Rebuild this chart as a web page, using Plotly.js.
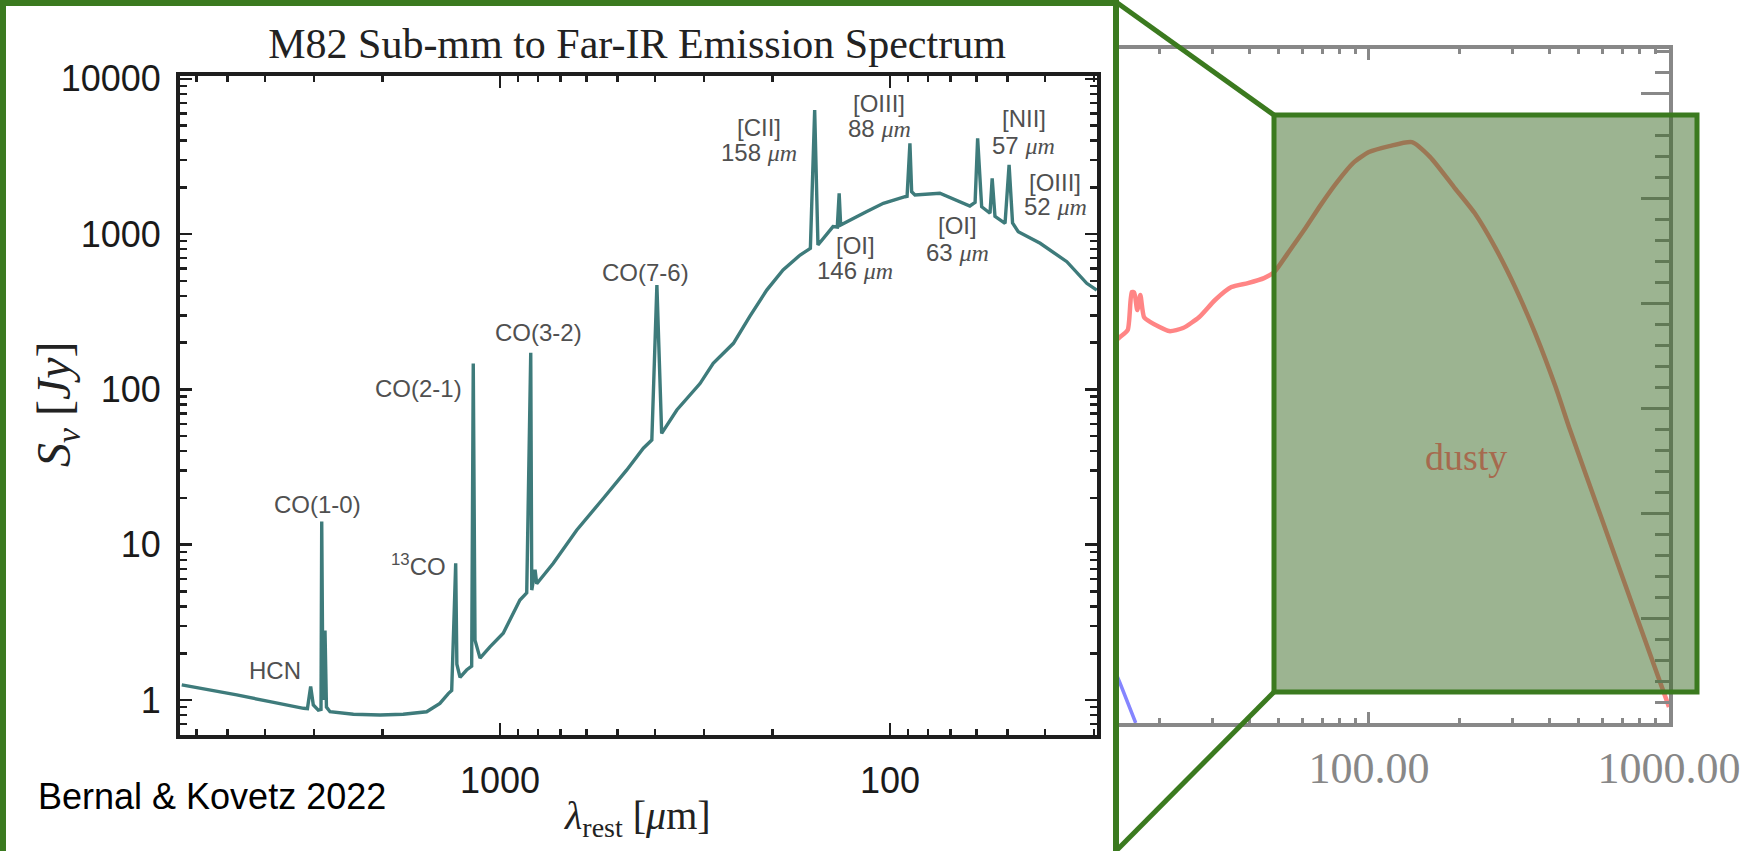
<!DOCTYPE html>
<html><head><meta charset="utf-8">
<script src="https://cdn.plot.ly/plotly-3.0.1.min.js"></script>
<style>html,body{margin:0;padding:0;background:#fff;overflow:hidden}#chart{width:1745px;height:851px}</style>
</head><body><div id="chart"></div>
<script>
// ---- Left panel: M82 spectrum (wavelength in micron, flux density in Jy) ----
const specLambda = [6546, 4732, 3890, 3190, 3117, 3058, 3011, 2924, 2877, 2865, 2844, 2810, 2786, 2728,
  2376, 2030, 1771, 1542, 1426, 1357, 1330, 1310, 1299, 1290, 1266, 1218, 1182, 1171, 1159, 1125,
  1061, 981, 889, 854, 834, 829, 813, 805, 730, 636, 543, 473, 429, 408, 396, 385,
  352, 307, 284, 252, 229, 207, 188, 170, 160, 156, 153, 140, 136.5, 135, 133.8,
  115, 104, 91.5, 90.4, 88.9, 88, 86.3, 74.5, 62.4, 60.5, 59.6, 58.2, 55.4, 54.7, 53.8,
  50.7, 49.5, 48.5, 46.9, 41.2, 35.2, 31.3, 29.5];
const specFlux = [1.25, 1.08, 0.975, 0.884, 0.88, 1.22, 0.93, 0.86, 0.87, 14.1, 1.0, 2.8, 0.9, 0.84,
  0.81, 0.80, 0.81, 0.84, 0.95, 1.10, 1.15, 3.8, 7.6, 1.7, 1.4, 1.56, 1.65, 147, 2.43, 1.86,
  2.20, 2.69, 4.40, 4.9, 172, 5.1, 6.9, 5.6, 7.59, 12.4, 19.9, 30.3, 41.8, 47.2, 470, 52.1,
  73.7, 109, 147, 198, 294, 436, 587, 733, 810, 6300, 851, 1117, 1110, 1832, 1144,
  1394, 1578, 1741, 1750, 3845, 1876, 1786, 1832, 1517, 1600, 4140, 1500, 1362, 2286, 1300,
  1173, 2787, 1180, 1036, 872, 664, 482, 436];
const leftXTickVals = [100, 1000];
const leftXTickText = ['100', '1000'];
const leftYTickVals = [1, 10, 100, 1000, 10000];
const leftYTickText = ['1', '10', '100', '1000', '10000'];

// ---- Right panel: SED components ----
const sedX = [13.7, 14.8, 15.7, 16.2, 16.5, 16.9, 17.3, 17.8, 18.7, 21.6, 24.0, 27.2, 30.7, 34.8, 39.5,
  44.7, 48.3, 53.7, 60.8, 69.0, 78.3, 88.5, 100, 117, 139, 160, 192, 225, 263, 307, 358, 419, 468, 589, 770, 1000];
const sedY = [3.6, 3.676, 3.743, 4.105, 4.10, 3.933, 4.076, 3.867, 3.819, 3.733, 3.762, 3.867, 4.029, 4.152, 4.190,
  4.238, 4.295, 4.476, 4.695, 4.933, 5.152, 5.333, 5.438, 5.495, 5.533, 5.390, 5.105, 4.857, 4.533, 4.152, 3.714, 3.200, 2.790, 1.990, 1.057, 0.152];
const blueX = [13.7, 14.8, 16.7];
const blueY = [0.61, 0.381, 0.0];
const rightXTickVals = [100, 1000];
const rightXTickText = ['100.00', '1000.00'];

// ---- helpers (pixel -> paper) ----
const W = 1745, H = 851;
const PX = x => x / W;
const PY = y => 1 - y / H;
function logMinor(kLo, kHi) {
  const v = [];
  for (let k = kLo; k <= kHi; k++) for (let d = 2; d <= 9; d++) v.push(d * Math.pow(10, k));
  return v;
}
const GREEN = '#3b7a1f';
const SANS = 'Liberation Sans, Arial, Helvetica, sans-serif';
const SERIF = 'Liberation Serif, Times New Roman, serif';
const labelFont = {family: SANS, size: 24, color: '#505050'};
const mu = '<span style="font-family:Liberation Serif"><i>μm</i></span>';

const traces = [
  {x: sedX, y: sedY, xaxis: 'x', yaxis: 'y', mode: 'lines', line: {color: '#ff8585', width: 4.5, shape: 'spline', smoothing: 0.6}, hoverinfo: 'skip', showlegend: false},
  {x: blueX, y: blueY, xaxis: 'x', yaxis: 'y', mode: 'lines', line: {color: '#8585ff', width: 3.5}, hoverinfo: 'skip', showlegend: false},
  {x: specLambda, y: specFlux, xaxis: 'x2', yaxis: 'y2', mode: 'lines', line: {color: '#3e7b7b', width: 3.4, simplify: false}, hoverinfo: 'skip', showlegend: false}
];

function ann(text, x, y, font, extra) {
  return Object.assign({text: text, x: PX(x), y: PY(y), xref: 'paper', yref: 'paper', showarrow: false,
    xanchor: 'center', yanchor: 'middle', font: font}, extra || {});
}

const annotations = [
  ann('HCN', 275, 670, labelFont),
  ann('CO(1-0)', 317, 504, labelFont),
  ann('<sup>13</sup>CO', 418, 565, labelFont),
  ann('CO(2-1)', 418, 388, labelFont),
  ann('CO(3-2)', 538, 332, labelFont),
  ann('CO(7-6)', 645, 272, labelFont),
  ann('[CII]', 759, 127, labelFont),
  ann('158 ' + mu, 759, 152, labelFont),
  ann('[OIII]', 879, 103, labelFont),
  ann('88 ' + mu, 879, 128, labelFont),
  ann('[NII]', 1024, 118, labelFont),
  ann('57 ' + mu, 1024, 145, labelFont),
  ann('[OIII]', 1055, 182, labelFont),
  ann('52 ' + mu, 1055, 207, labelFont),
  ann('[OI]', 855, 245, labelFont),
  ann('146 ' + mu, 855, 270, labelFont),
  ann('[OI]', 958, 225, labelFont),
  ann('63 ' + mu, 958, 252, labelFont),
  ann('<i>S</i><sub><i>ν</i></sub> [<i>Jy</i>]', 57, 405, {family: SERIF, size: 48, color: '#222'}, {textangle: -90}),
  ann('<i>λ</i><sub>rest</sub> [<i>μ</i>m]', 637, 818, {family: SERIF, size: 40, color: '#222'}),
  ann('Bernal &amp; Kovetz 2022', 36, 796, {family: SANS, size: 36, color: '#000'}, {xanchor: 'left'}),
  ann('dusty', 1466, 457, {family: SERIF, size: 38, color: 'rgb(166,106,78)'})
];

const shapes = [
  // zoom rectangle on the right panel
  {type: 'rect', xref: 'paper', yref: 'paper', x0: PX(1274), x1: PX(1697), y0: PY(692), y1: PY(115),
   fillcolor: 'rgba(58,105,35,0.5)', line: {color: GREEN, width: 5}, layer: 'above'},
  // frame round the left panel
  {type: 'rect', xref: 'paper', yref: 'paper', x0: PX(3), x1: PX(1116), y0: PY(856), y1: PY(3),
   fillcolor: 'rgba(0,0,0,0)', line: {color: GREEN, width: 6}, layer: 'above'},
  // connectors
  {type: 'line', xref: 'paper', yref: 'paper', x0: PX(1116), y0: PY(2), x1: PX(1274), y1: PY(115),
   line: {color: GREEN, width: 5}, layer: 'above'},
  {type: 'line', xref: 'paper', yref: 'paper', x0: PX(1116), y0: PY(851), x1: PX(1274), y1: PY(692),
   line: {color: GREEN, width: 5}, layer: 'above'}
];

const grayAxis = '#888888';
const blackAxis = '#1e1e1e';

const layout = {
  width: W, height: H,
  margin: {l: 0, r: 0, t: 0, b: 0, pad: 0},
  paper_bgcolor: '#ffffff', plot_bgcolor: 'rgba(0,0,0,0)',
  showlegend: false,
  title: {text: 'M82 Sub-mm to Far-IR Emission Spectrum', x: PX(637), y: PY(43), xref: 'paper', yref: 'paper',
    xanchor: 'center', yanchor: 'middle', font: {family: SERIF, size: 42, color: '#222'}},
  // right panel
  xaxis: {domain: [PX(1116), PX(1669)], anchor: 'y', type: 'log', range: [1.157, 3],
    showline: true, linecolor: grayAxis, linewidth: 4, mirror: 'allticks', showgrid: false, zeroline: false,
    ticks: 'inside', ticklen: 11, tickwidth: 3, tickcolor: grayAxis,
    tickmode: 'array', tickvals: rightXTickVals, ticktext: rightXTickText,
    tickfont: {family: SERIF, size: 44, color: grayAxis}, ticklabelstandoff: 3,
    minor: {tickmode: 'array', tickvals: logMinor(1, 2), ticks: 'inside', ticklen: 5, tickwidth: 3, tickcolor: grayAxis, showgrid: false}},
  yaxis: {domain: [PY(723), PY(49)], anchor: 'x', range: [0, 6.42], side: 'right',
    showline: true, linecolor: grayAxis, linewidth: 4, mirror: false, showgrid: false, zeroline: false,
    ticks: 'inside', ticklen: 28, tickwidth: 3, tickcolor: grayAxis, dtick: 1, tick0: 0, showticklabels: false,
    minor: {dtick: 0.2, ticks: 'inside', ticklen: 14, tickwidth: 3, tickcolor: grayAxis, showgrid: false}},
  // left panel
  xaxis2: {domain: [PX(180), PX(1097)], anchor: 'y2', type: 'log', range: [3.8205, 1.4692],
    showline: true, linecolor: blackAxis, linewidth: 4, mirror: 'allticks', showgrid: false, zeroline: false,
    ticks: 'inside', ticklen: 12, tickwidth: 2.5, tickcolor: blackAxis,
    tickmode: 'array', tickvals: leftXTickVals, ticktext: leftXTickText,
    tickfont: {family: SANS, size: 36, color: '#1a1a1a'}, ticklabelstandoff: 11,
    minor: {tickmode: 'array', tickvals: logMinor(1, 3), ticks: 'inside', ticklen: 6, tickwidth: 2.5, tickcolor: blackAxis, showgrid: false}},
  yaxis2: {domain: [PY(735), PY(76)], anchor: 'x2', type: 'log', range: [-0.2254, 4.018],
    showline: true, linecolor: blackAxis, linewidth: 4, mirror: 'allticks', showgrid: false, zeroline: false,
    ticks: 'inside', ticklen: 12, tickwidth: 2.5, tickcolor: blackAxis,
    tickmode: 'array', tickvals: leftYTickVals, ticktext: leftYTickText,
    tickfont: {family: SANS, size: 36, color: '#1a1a1a'}, ticklabelstandoff: 8,
    minor: {tickmode: 'array', tickvals: logMinor(-1, 3), ticks: 'inside', ticklen: 7, tickwidth: 2.5, tickcolor: blackAxis, showgrid: false}},
  annotations: annotations,
  shapes: shapes
};

Plotly.newPlot('chart', traces, layout, {staticPlot: true, displayModeBar: false});
</script>
</body></html>
